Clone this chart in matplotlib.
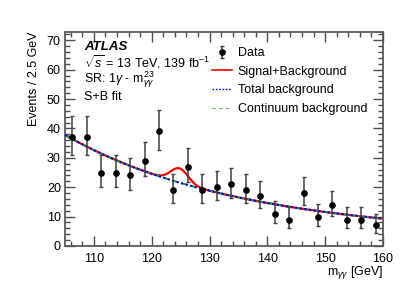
import numpy as np
import matplotlib
matplotlib.use('Agg')
import matplotlib.pyplot as plt
from matplotlib.lines import Line2D
from matplotlib.ticker import MultipleLocator

plt.rcParams['font.family'] = ['Liberation Sans', 'DejaVu Sans']
plt.rcParams['mathtext.fontset'] = 'custom'
plt.rcParams['mathtext.rm'] = 'Liberation Sans'
plt.rcParams['mathtext.it'] = 'Liberation Sans:italic'
plt.rcParams['mathtext.bf'] = 'Liberation Sans:bold'

# datos: centros de bin (2.5 GeV) y eventos
m_centros = [106.25, 108.75, 111.25, 113.75, 116.25, 118.75, 121.25, 123.75,
             126.25, 128.75, 131.25, 133.75, 136.25, 138.75, 141.25, 143.75,
             146.25, 148.75, 151.25, 153.75, 156.25, 158.75]
eventos = [37, 37, 25, 25, 24, 29, 39, 19, 27, 19, 20, 21, 19, 17, 11, 9,
           18, 10, 14, 9, 9, 7]

# curvas
m_curva = [105, 107.5, 110, 112.5, 115, 117.5, 120, 120.5, 121, 121.5, 122,
           122.5, 123, 123.5, 124, 124.5, 125, 125.5, 126, 126.5, 127, 127.5,
           128, 128.5, 129, 129.5, 130, 132.5, 135, 137.5, 140, 142.5, 145,
           147.5, 150, 152.5, 155, 157.5, 160]
fondo = [37.79, 35.09, 32.60, 30.33, 28.24, 26.32, 24.56, 24.23, 23.90, 23.57,
         23.25, 22.94, 22.63, 22.33, 22.03, 21.74, 21.44, 21.16, 20.88, 20.61,
         20.34, 20.07, 19.81, 19.55, 19.30, 19.05, 18.80, 17.63, 16.55, 15.55,
         14.63, 13.78, 12.98, 12.25, 11.57, 10.94, 10.35, 9.81, 9.30]
senal_fondo = [37.79, 35.09, 32.60, 30.33, 28.24, 26.32, 24.59, 24.31, 24.10,
               24.01, 24.11, 24.45, 25.01, 25.69, 26.28, 26.54, 26.30, 25.56,
               24.44, 23.19, 22.01, 21.04, 20.31, 19.78, 19.40, 19.09, 18.81,
               17.63, 16.55, 15.55, 14.63, 13.78, 12.98, 12.25, 11.57, 10.94,
               10.35, 9.81, 9.30]

n = np.array(eventos, dtype=float)
# intervalos de Poisson (aprox. Gehrels)
err_up = np.sqrt(n + 0.75) + 1
err_lo = n - n * (1 - 1/(9*n) - 1/(3*np.sqrt(n)))**3

fig = plt.figure(figsize=(4.07, 2.92), dpi=100)
ax = fig.add_axes([65/407, 1-246/292, 318/407, 214/292])

ax.plot(m_curva, senal_fondo, color='red', lw=1.6, zorder=2)
ax.plot(m_curva, fondo, color='#1fa01f', lw=1.4, ls=(0, (3, 2)), zorder=3)
ax.plot(m_curva, fondo, color='blue', lw=1.4, ls=(0, (1.2, 1.2)), zorder=4)
h_data = ax.errorbar(m_centros, eventos, yerr=[err_lo, err_up], fmt='o',
                     color='black', ms=3.8, ecolor='0.25', elinewidth=1.1,
                     capsize=1.2, capthick=1.0, zorder=5)

ax.set_xlim(105, 160)
ax.set_ylim(0, 72.8)
ax.xaxis.set_major_locator(MultipleLocator(10))
ax.xaxis.set_minor_locator(MultipleLocator(2))
ax.yaxis.set_major_locator(MultipleLocator(10))
ax.yaxis.set_minor_locator(MultipleLocator(2))
ax.tick_params(which='both', direction='in', top=True, right=True,
               labelsize=9, color='0.3', width=1.0)
ax.tick_params(which='major', length=7)
ax.tick_params(which='minor', length=3.5)
ax.tick_params(axis='x', pad=5)
ax.tick_params(axis='y', pad=3)
for s in ax.spines.values():
    s.set_color('0.35')
    s.set_linewidth(1.3)

ax.set_ylabel('Events / 2.5 GeV', fontsize=9, loc='top', labelpad=5)
ax.set_xlabel(r'm$_{\gamma\gamma}$ [GeV]', fontsize=9, loc='right', labelpad=-1)

ax.text(0.06, 0.932, 'ATLAS', transform=ax.transAxes, fontsize=9.5,
        fontweight='bold', style='italic', va='center')
ax.text(0.06, 0.86, r'$\sqrt{s}$ = 13 TeV, 139 fb$^{-1}$', transform=ax.transAxes,
        fontsize=9, va='center')
ax.text(0.06, 0.776, r'SR: 1$\gamma$ - m$^{23}_{\gamma\gamma}$',
        transform=ax.transAxes, fontsize=9, va='center')
ax.text(0.06, 0.696, 'S+B fit', transform=ax.transAxes, fontsize=9,
        va='center')

h_sb = Line2D([], [], color='red', lw=1.2)
h_tot = Line2D([], [], color='blue', lw=1.0, ls=(0, (1.2, 1.2)))
h_cont = Line2D([], [], color='#5cb85c', lw=0.8, ls=(0, (3, 3)))
ax.legend([h_data, h_sb, h_tot, h_cont],
          ['Data', 'Signal+Background', 'Total background', 'Continuum background'],
          loc='upper left', bbox_to_anchor=(0.462, 0.929), frameon=False,
          fontsize=9, handlelength=1.6, handletextpad=0.45, labelspacing=0.53,
          borderpad=0, borderaxespad=0)

fig.savefig('out.png', dpi=100)
